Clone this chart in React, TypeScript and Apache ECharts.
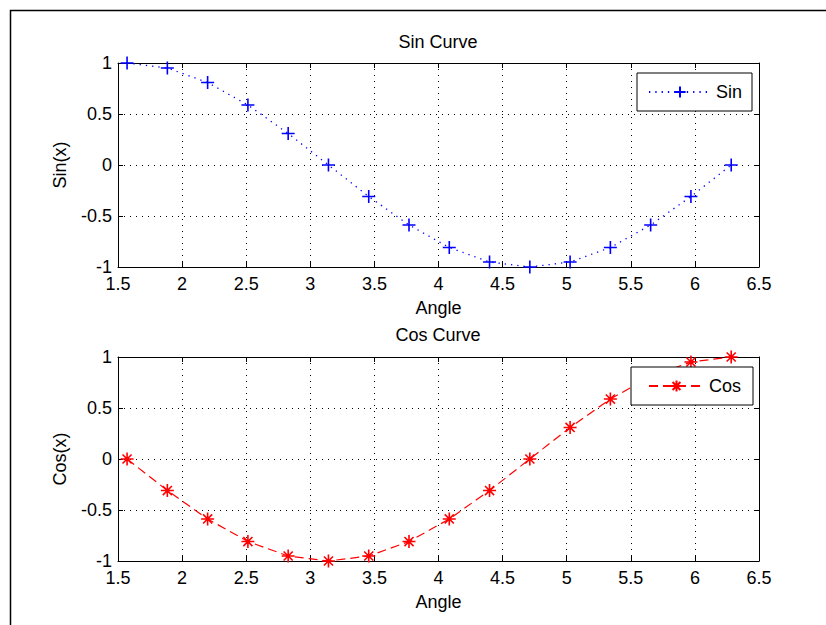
import React, { useEffect, useRef } from "react";
import * as echarts from "echarts";

const angles = [1.5708, 1.885, 2.1991, 2.5133, 2.8274, 3.1416, 3.4558, 3.7699, 4.0841, 4.3982, 4.7124, 5.0265, 5.3407, 5.6549, 5.969, 6.2832];
const sinValues = [1, 0.951, 0.809, 0.588, 0.309, 0, -0.309, -0.588, -0.809, -0.951, -1, -0.951, -0.809, -0.588, -0.309, 0];
const cosValues = [0, -0.309, -0.588, -0.809, -0.951, -1, -0.951, -0.809, -0.588, -0.309, 0, 0.309, 0.588, 0.809, 0.951, 1];
const titles = ["Sin Curve", "Cos Curve"];
const yNames = ["Sin(x)", "Cos(x)"];
const xName = "Angle";
const xRange = [1.5, 6.5];
const yRange = [-1, 1];

const FONT = "'Liberation Sans', Arial, Helvetica, sans-serif";
const FS = 18;

const plusPath = "path://M6,0L6,12M0,6L12,6";
const starPath = "path://M6,0L6,12M0,6L12,6M1.8,1.8L10.2,10.2M10.2,1.8L1.8,10.2";

export default function App() {
  const ref = useRef<HTMLDivElement>(null);
  useEffect(() => {
    if (!ref.current) return;
    const chart = echarts.init(ref.current, undefined, { renderer: "svg" });
    const grids = [
      { left: 118, top: 63, width: 641, height: 204 },
      { left: 118, top: 357, width: 641, height: 204 },
    ];
    const baseAxis = {
      axisLine: { show: true, onZero: false, lineStyle: { color: "#000", width: 1 } },
      axisTick: { show: true, inside: true, length: 5, lineStyle: { color: "#000" } },
    };
    const xAxes: any[] = [];
    const yAxes: any[] = [];
    [0, 1].forEach((g) => {
      xAxes.push({
        ...baseAxis,
        type: "value",
        gridIndex: g,
        min: xRange[0],
        max: xRange[1],
        interval: 0.5,
        position: "bottom",
        name: xName,
        nameLocation: "middle",
        nameGap: 32,
        nameTextStyle: { color: "#000", fontSize: FS, fontFamily: FONT },
        axisLabel: { color: "#000", fontSize: FS, fontFamily: FONT, margin: 8 },
        splitLine: { show: true, lineStyle: { color: "#000", type: [1, 5], width: 1 } },
      });
      xAxes.push({
        ...baseAxis,
        type: "value",
        gridIndex: g,
        min: xRange[0],
        max: xRange[1],
        interval: 0.5,
        position: "top",
        axisLabel: { show: false },
        splitLine: { show: false },
      });
      yAxes.push({
        ...baseAxis,
        type: "value",
        gridIndex: g,
        min: yRange[0],
        max: yRange[1],
        interval: 0.5,
        position: "left",
        name: yNames[g],
        nameLocation: "middle",
        nameRotate: 90,
        nameGap: 49,
        nameTextStyle: { color: "#000", fontSize: FS, fontFamily: FONT },
        axisLabel: { color: "#000", fontSize: FS, fontFamily: FONT, margin: 6 },
        splitLine: { show: true, lineStyle: { color: "#000", type: [1, 5], width: 1 } },
      });
      yAxes.push({
        ...baseAxis,
        type: "value",
        gridIndex: g,
        min: yRange[0],
        max: yRange[1],
        interval: 0.5,
        position: "right",
        axisLabel: { show: false },
        splitLine: { show: false },
      });
    });

    const option: any = {
      animation: false,
      backgroundColor: "#fff",
      textStyle: { fontFamily: FONT },
      title: [
        {
          text: titles[0],
          left: 438,
          top: 33,
          textAlign: "center",
          padding: 0,
          textStyle: { fontSize: FS, fontWeight: "normal", color: "#000", fontFamily: FONT },
        },
        {
          text: titles[1],
          left: 438,
          top: 326,
          textAlign: "center",
          padding: 0,
          textStyle: { fontSize: FS, fontWeight: "normal", color: "#000", fontFamily: FONT },
        },
      ],
      grid: grids,
      xAxis: xAxes,
      yAxis: yAxes,
      legend: [
        {
          data: ["Sin"],
          left: 637,
          top: 73,
          orient: "horizontal",
          itemWidth: 62,
          itemHeight: 14,
          padding: [10, 10, 10, 11],
          borderColor: "#000",
          borderWidth: 1,
          backgroundColor: "#fff",
          textStyle: { color: "#000", fontSize: FS, fontFamily: FONT },
        },
        {
          data: ["Cos"],
          left: 631,
          top: 367,
          orient: "horizontal",
          itemWidth: 55,
          itemHeight: 14,
          padding: [10, 12, 10, 17],
          borderColor: "#000",
          borderWidth: 1,
          backgroundColor: "#fff",
          textStyle: { color: "#000", fontSize: FS, fontFamily: FONT },
        },
      ],
      graphic: [
        {
          type: "rect",
          shape: { x: 10.5, y: 10.5, width: 900, height: 700 },
          style: { fill: "none", stroke: "#000", lineWidth: 1.5 },
          silent: true,
        },
      ],
      series: [
        {
          name: "Sin",
          type: "line",
          xAxisIndex: 0,
          yAxisIndex: 0,
          data: angles.map((a, i) => [a, sinValues[i]]),
          clip: false,
          symbol: plusPath,
          symbolSize: 13,
          showAllSymbol: true,
          color: "#0000ff",
          itemStyle: { color: "#0000ff", borderColor: "#0000ff", borderWidth: 1.6 },
          lineStyle: { color: "#0000ff", width: 1.3, type: [1.3, 5] },
        },
        {
          name: "Cos",
          type: "line",
          xAxisIndex: 2,
          yAxisIndex: 2,
          data: angles.map((a, i) => [a, cosValues[i]]),
          clip: false,
          symbol: starPath,
          symbolSize: 13,
          showAllSymbol: true,
          color: "#ff0000",
          itemStyle: { color: "#ff0000", borderColor: "#ff0000", borderWidth: 1.6 },
          lineStyle: { color: "#ff0000", width: 1.2, type: [9, 5] },
        },
      ],
    };
    chart.setOption(option);
    return () => chart.dispose();
  }, []);
  return (
    <div
      ref={ref}
      style={{ position: "fixed", left: 0, top: 0, width: 826, height: 625 }}
    />
  );
}
